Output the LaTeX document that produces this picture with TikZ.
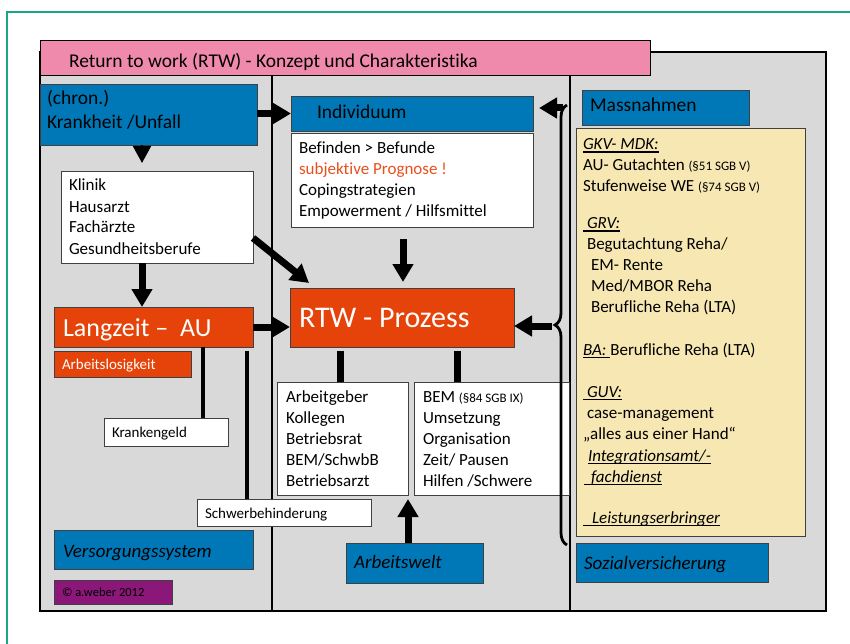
\documentclass[tikz,border=0pt]{standalone}
\usepackage{fontspec}
\setmainfont{Carlito}[Ligatures={TeX,NoCommon}]
\usetikzlibrary{arrows.meta,decorations.pathreplacing,calc}
\definecolor{blueF}{HTML}{0078B8}
\definecolor{orangeF}{HTML}{E5430A}
\definecolor{pinkF}{HTML}{F08AAD}
\definecolor{grayF}{HTML}{D9D9D9}
\definecolor{yellowF}{HTML}{F7E7B3}
\definecolor{purpleF}{HTML}{8B1878}
\definecolor{greenL}{HTML}{1BA38C}
\definecolor{redT}{HTML}{E8501E}
\newsavebox\ulbox
\newcommand\myul[1]{\leavevmode\sbox\ulbox{#1}\rlap{\rule[-2.8pt]{\wd\ulbox}{1.3pt}}\usebox\ulbox}
\newcommand\myfs[2]{\fontsize{#1}{#2}\selectfont}
\begin{document}
\begin{tikzpicture}[x=1pt,y=-1pt,
  box/.style={draw=black!75, line width=0.8pt, anchor=north west, inner sep=0pt, outer sep=0pt},
  txt/.style={anchor=base west, inner sep=0pt, outer sep=0pt},
  arr/.style={line width=7pt, -{Triangle[width=20pt,length=18pt]}},
  ln/.style={line width=4.5pt},
  lnw/.style={line width=7pt}
]
\useasboundingbox (0,0) rectangle (850,644);
% frame
\draw[greenL, line width=2.5pt] (7,650) -- (7,12) -- (860,12);
% gray panel
\node[box, draw=black, line width=2.5pt, fill=grayF, minimum width=786pt, minimum height=559pt] (panel) at (40,52) {};
\coordinate (v1) at (272,75);
\coordinate (v2) at (570,75);
\draw[line width=1.5pt] (v1) -- (v1 |- panel.south);
\draw[line width=1.5pt] (v2) -- (v2 |- panel.south);
% title
\node[box, draw=black, fill=pinkF, minimum width=610pt, minimum height=35pt] (pink) at (40,40) {};
\node[txt, font=\myfs{19.5}{24}] (tpink) at (69,68) {Return to work (RTW) - Konzept und Charakteristika};
% left column
\node[box, fill=blueF, minimum width=217pt, minimum height=61pt] (kr) at (40,84) {};
\node[txt, font=\myfs{19.5}{24}] (tkr) at (47,105) {\parbox[t]{200pt}{(chron.)\\Krankheit /Unfall}};
\node[box, fill=white, minimum width=192pt, minimum height=92pt] (kl) at (61,171) {};
\node[txt, font=\myfs{17}{21}] (tkl) at (69,191) {\parbox[t]{180pt}{Klinik\\Hausarzt\\Fachärzte\\Gesundheitsberufe}};
\node[box, fill=orangeF, minimum width=199pt, minimum height=40pt] (lang) at (54,307) {};
\node[txt, font=\myfs{26}{30}, text=white] (tlang) at (63,336) {Langzeit –\ \ AU};
\node[box, fill=orangeF, minimum width=137pt, minimum height=26pt] (al) at (54,351) {};
\node[txt, font=\myfs{15}{18}, text=white] (tal) at (62,369) {Arbeitslosigkeit};
\node[box, fill=white, minimum width=124pt, minimum height=28pt] (kg) at (104,418) {};
\node[txt, font=\myfs{15}{18}] (tkg) at (112,437) {Krankengeld};
\node[box, fill=white, minimum width=174pt, minimum height=27pt] (sb) at (197,499) {};
\node[txt, font=\myfs{15}{18}] (tsb) at (205,518) {Schwerbehinderung};
\node[box, fill=blueF, minimum width=199pt, minimum height=39pt] (vs) at (54,530) {};
\node[txt, font=\myfs{19}{23}\itshape] (tvs) at (63,557) {Versorgungssystem};
\node[box, fill=purpleF, minimum width=118pt, minimum height=24pt] (cp) at (54,580) {};
\node[txt, font=\myfs{12.5}{15}] (tcp) at (62,596) {© a.weber 2012};
% middle column
\node[box, fill=blueF, minimum width=242pt, minimum height=35pt] (ind) at (291,96) {};
\node[txt, font=\myfs{19.5}{24}] (tind) at (317,119) {Individuum};
\node[box, fill=white, minimum width=242pt, minimum height=94pt] (indw) at (291,133) {};
\node[txt, font=\myfs{17}{21}] (tindw) at (299,154) {\parbox[t]{230pt}{Befinden > Befunde\\\textcolor{redT}{subjektive Prognose !}\\Copingstrategien\\Empowerment / Hilfsmittel}};
\node[box, fill=orangeF, minimum width=224pt, minimum height=59pt] (rtw) at (290,288) {};
\node[txt, font=\myfs{30}{36}, text=white] (trtw) at (299,327) {RTW - Prozess};
\node[box, fill=white, minimum width=131pt, minimum height=113pt] (ag) at (277,382) {};
\node[txt, font=\myfs{17}{21}] (tag) at (286,402) {\parbox[t]{120pt}{Arbeitgeber\\Kollegen\\Betriebsrat\\BEM/SchwbB\\Betriebsarzt}};
\node[box, fill=white, minimum width=155pt, minimum height=113pt] (bem) at (414,382) {};
\node[txt, font=\myfs{17}{21}] (tbem) at (423,402) {\parbox[t]{140pt}{BEM {\myfs{13}{21}(§84 SGB IX)}\\Umsetzung\\Organisation\\Zeit/ Pausen\\Hilfen /Schwere}};
\node[box, fill=blueF, minimum width=137pt, minimum height=40pt] (aw) at (346,543) {};
\node[txt, font=\myfs{19}{23}\itshape] (taw) at (354,568) {Arbeitswelt};
% right column
\node[box, fill=blueF, minimum width=167pt, minimum height=35pt] (mn) at (582,90) {};
\node[txt, font=\myfs{19.5}{24}] (tmn) at (590,112) {Massnahmen};
\node[box, fill=yellowF, minimum width=229pt, minimum height=408pt] (yb) at (576,128) {};
\node[txt, font=\myfs{17}{21}] (tyb) at (583,150) {\parbox[t]{220pt}{%
\myul{\itshape GKV- MDK:}\\
AU- Gutachten {\myfs{13}{21}(§51 SGB V)}\\
Stufenweise WE {\myfs{13}{21}(§74 SGB V)}\\[16pt]
\myul{\hspace*{4pt}\itshape GRV:}\\
\hspace*{4pt}Begutachtung Reha/\\
\hspace*{8pt}EM- Rente\\
\hspace*{8pt}Med/MBOR Reha\\
\hspace*{8pt}Berufliche Reha (LTA)\\[21pt]
\myul{\itshape BA:\ }Berufliche Reha (LTA)\\[21pt]
\myul{\hspace*{4pt}\itshape GUV:}\\
\hspace*{4pt}case-management\\
„alles aus einer Hand“\\[1pt]
\hspace*{5pt}\myul{\itshape Integrationsamt/-}\\
\hspace*{1pt}\myul{\hspace*{7pt}\itshape fachdienst}\\[20pt]
\myul{\hspace*{9pt}\itshape Leistungserbringer}}};
\node[box, fill=blueF, minimum width=192pt, minimum height=39pt] (sv) at (576,543) {};
\node[txt, font=\myfs{19}{23}\itshape] (tsv) at (584,569) {Sozialversicherung};
% connector coordinates
\coordinate (xa) at (142,0);
\coordinate (xb) at (403,0);
\coordinate (xc) at (203,0);
\coordinate (xd) at (247,0);
\coordinate (xe) at (340,0);
\coordinate (xf) at (457,0);
\coordinate (xg) at (408,0);
\coordinate (d1) at (253,238);
\coordinate (d2) at (309,283);
\coordinate (br1) at (567,545);
\coordinate (br2) at (567,105);
\coordinate (bi) at (563,108);
\coordinate (bp) at (552,326);
% connectors
\draw[line width=2pt, -{Triangle[width=18pt,length=17pt]}] (kr.south -| xa) -- ($(kl.north -| xa)+(0,-8)$);
\draw[arr] (kl.south -| xa) -- (lang.north -| xa);
\draw[arr] (kr.east |- ind.west) -- (ind.west);
\draw[arr] (lang.east) -- (lang.east -| rtw.west);
\draw[arr] (d1) -- (d2);
\draw[arr, shorten <=12pt, shorten >=6pt] (indw.south -| xb) -- (rtw.north -| xb);
\draw[ln] (lang.south -| xc) -- (kg.north -| xc);
\draw[ln, shorten <=4pt] (lang.south -| xd) -- (sb.north -| xd);
\draw[lnw, shorten <=4pt] (rtw.south -| xe) -- (ag.north -| xe);
\draw[lnw, shorten <=4pt] (rtw.south -| xf) -- (bem.north -| xf);
\draw[arr, shorten >=4pt] (aw.north -| xg) -- (ag.south -| xg);
\draw[arr, shorten >=6pt] (bi) -- (bi -| ind.east);
\draw[arr] (bp) -- (bp -| rtw.east);
\draw[decorate, decoration={brace, amplitude=12pt}, line width=2.8pt] (br1) -- (br2);
\end{tikzpicture}
\end{document}
